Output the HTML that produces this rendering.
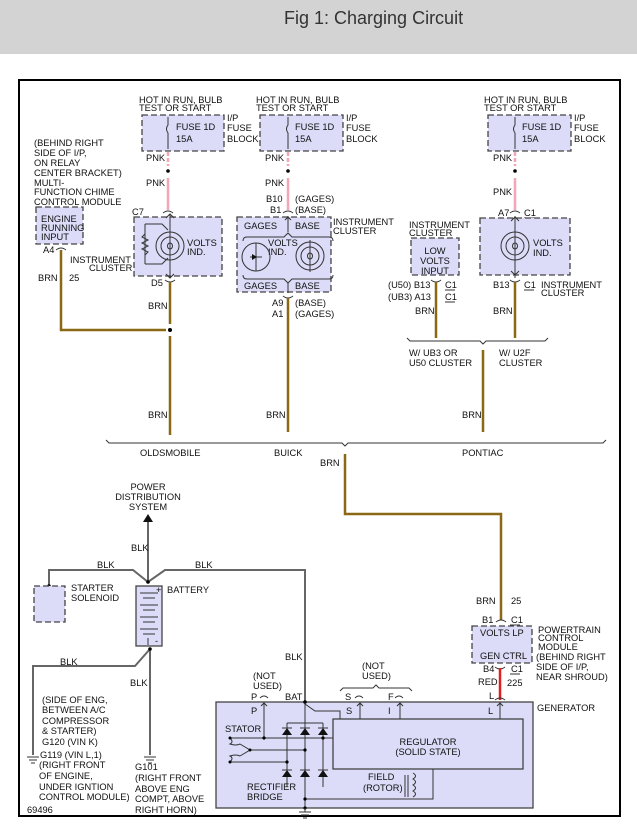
<!DOCTYPE html>
<html><head><meta charset="utf-8"><style>
html,body{margin:0;padding:0;background:#fff;width:637px;height:832px;overflow:hidden}
.hdr{position:absolute;left:0;top:0;width:637px;height:54px;background:#d3d3d3}
.hdr span{position:absolute;left:284px;top:8px;font:18px "Liberation Sans",sans-serif;color:#333}
svg{position:absolute;left:0;top:0}
text{font-family:"Liberation Sans",Arial,sans-serif;font-size:9.3px;fill:#111}
.bx{fill:#dcdcf8;stroke:#444;stroke-width:1.3;stroke-dasharray:6,3}
.br{stroke:#8b6914;stroke-width:2.5;fill:none}
.gw{stroke:#666;stroke-width:2;fill:none}
.pk{stroke:#f3a6b6;stroke-width:2.5;fill:none}
.ln{stroke:#333;stroke-width:1;fill:none}
</style></head><body>
<div class="hdr"><span>Fig 1: Charging Circuit</span></div>
<svg width="637" height="832" viewBox="0 0 637 832">
<rect x="19" y="80" width="601" height="736" fill="none" stroke="#000" stroke-width="2"/>

<g>
<text x="139" y="103">HOT IN RUN, BULB</text><text x="139" y="111">TEST OR START</text>
<rect class="bx" x="142" y="115" width="82" height="36"/>
<path class="ln" d="M168 117v8q-3 4 0 8v16"/>
<text x="176" y="130">FUSE 1D</text><text x="176" y="142">15A</text>
<text x="227" y="121">I/P</text><text x="227" y="131">FUSE</text><text x="227" y="142">BLOCK</text>
<text x="146" y="161">PNK</text><text x="146" y="186">PNK</text>
<path class="pk" d="M168 152v14" stroke-dasharray="4,2"/><circle cx="168" cy="171" r="1.8"/><path class="pk" d="M168 178v32"/>

<text x="256" y="103">HOT IN RUN, BULB</text><text x="256" y="111">TEST OR START</text>
<rect class="bx" x="260" y="115" width="83" height="36"/>
<path class="ln" d="M288 117v8q-3 4 0 8v16"/>
<text x="295" y="130">FUSE 1D</text><text x="295" y="142">15A</text>
<text x="346" y="121">I/P</text><text x="346" y="131">FUSE</text><text x="346" y="142">BLOCK</text>
<text x="265" y="161">PNK</text><text x="265" y="186">PNK</text>
<path class="pk" d="M288 152v14" stroke-dasharray="4,2"/><circle cx="288" cy="171" r="1.8"/><path class="pk" d="M288 178v32"/>

<text x="484" y="103">HOT IN RUN, BULB</text><text x="484" y="111">TEST OR START</text>
<rect class="bx" x="488" y="115" width="83" height="36"/>
<path class="ln" d="M515 117v8q-3 4 0 8v16"/>
<text x="522" y="130">FUSE 1D</text><text x="522" y="142">15A</text>
<text x="574" y="121">I/P</text><text x="574" y="131">FUSE</text><text x="574" y="142">BLOCK</text>
<text x="493" y="161">PNK</text><text x="493" y="195">PNK</text>
<path class="pk" d="M515 152v14" stroke-dasharray="4,2"/><circle cx="515" cy="171" r="1.8"/><path class="pk" d="M515 178v32"/>
</g>

<text x="34" y="146">(BEHIND RIGHT</text><text x="34" y="156">SIDE OF I/P,</text><text x="34" y="166">ON RELAY</text><text x="34" y="176">CENTER BRACKET)</text><text x="34" y="186">MULTI-</text><text x="34" y="195">FUNCTION CHIME</text><text x="34" y="205">CONTROL MODULE</text>
<rect class="bx" x="36" y="207" width="47" height="37"/>
<text x="41" y="222">ENGINE</text><text x="41" y="231">RUNNING</text><text x="41" y="240">INPUT</text>
<text x="43" y="253">A4</text><path class="ln" d="M56 250q5-4 10 0"/>
<path class="br" d="M61 250v80h105"/>
<text x="38" y="281">BRN</text><text x="69" y="281">25</text>
<text x="132" y="215">C7</text><path class="ln" d="M163 213q5-4 10 0"/>
<rect class="bx" x="134" y="217" width="88" height="59"/>
<circle class="ln" cx="170" cy="246" r="14"/><circle class="ln" cx="170" cy="246" r="9"/><ellipse class="ln" cx="170" cy="246" rx="2.5" ry="3"/>
<path class="ln" d="M170 214v64M166 218l4-4 4 4M166 274l4 4 4-4M145 224v40M145 224h17l6 6M145 264h17l6-6"/>
<path class="ln" d="M145 234l-3 3 6 3-6 3 6 3-6 3 6 3-3 3"/>
<text x="187" y="246">VOLTS</text><text x="187" y="255">IND.</text>
<text x="70" y="263">INSTRUMENT</text><text x="89" y="271">CLUSTER</text>
<text x="151" y="286">D5</text><path class="ln" d="M165 280q5 4 10 0"/>
<path class="br" d="M170 282v42M170 336v99"/><circle cx="170" cy="330" r="2"/>
<text x="148" y="309">BRN</text><text x="148" y="418">BRN</text>

<text x="266" y="202">B10</text><text x="270" y="213">B1</text><text x="295" y="202">(GAGES)</text><text x="295" y="213">(BASE)</text>
<path class="ln" d="M283 213q5-4 10 0"/>
<rect class="bx" x="237" y="217" width="94" height="75"/>
<text x="333" y="225">INSTRUMENT</text><text x="333" y="234">CLUSTER</text>
<text x="244" y="229">GAGES</text><text x="295" y="229">BASE</text>
<text x="244" y="289">GAGES</text><text x="295" y="289">BASE</text>
<path class="ln" d="M288 216v16M285 220l3-3 3 3M243 241q0-4 4-4h37l4-4 4 4h37q4 0 4 4M243 275q0 4 4 4h37l4 4 4-4h37q4 0 4-4M288 283v10"/>
<text x="268" y="246">VOLTS</text><text x="268" y="255">IND.</text>
<circle class="ln" cx="256" cy="257" r="14"/><path class="ln" d="M256 243v28M250 257h12"/><path d="M252 254l5 3-5 3z" fill="#111"/>
<circle class="ln" cx="310" cy="256" r="14"/><circle class="ln" cx="310" cy="256" r="9"/><ellipse class="ln" cx="310" cy="256" rx="2.5" ry="3"/><path class="ln" d="M310 240v32"/>
<path class="ln" d="M283 296q5 4 10 0"/>
<text x="272" y="306">A9</text><text x="272" y="317">A1</text><text x="295" y="306">(BASE)</text><text x="295" y="317">(GAGES)</text>
<path class="br" d="M288 298v134"/>
<text x="266" y="418">BRN</text>

<text x="409" y="228">INSTRUMENT</text><text x="409" y="236">CLUSTER</text>
<rect class="bx" x="411" y="238" width="48" height="37"/>
<text x="435" y="254" text-anchor="middle">LOW</text><text x="435" y="264" text-anchor="middle">VOLTS</text><text x="435" y="274" text-anchor="middle">INPUT</text>
<path class="ln" d="M431 280q5 4 10 0"/>
<text x="388" y="288">(U50) B13</text><text x="388" y="300">(UB3) A13</text><text x="445" y="288">C1</text><text x="445" y="300">C1</text>
<path class="ln" d="M445 290h10M445 302h10"/>
<path class="br" d="M436 282v56"/><text x="415" y="314">BRN</text>
<text x="498" y="216">A7</text><text x="524" y="216">C1</text><path class="ln" d="M510 213q5-4 10 0M524 218h10"/>
<rect class="bx" x="480" y="218" width="90" height="57"/>
<circle class="ln" cx="515" cy="246" r="14"/><circle class="ln" cx="515" cy="246" r="9"/><ellipse class="ln" cx="515" cy="246" rx="2.5" ry="3"/>
<path class="ln" d="M515 216v62M511 221l4-4 4 4M511 271l4 4 4-4"/>
<text x="533" y="246">VOLTS</text><text x="533" y="256">IND.</text>
<text x="493" y="288">B13</text><text x="524" y="288">C1</text><path class="ln" d="M510 280q5 4 10 0M524 290h10"/>
<text x="541" y="288">INSTRUMENT</text><text x="541" y="296">CLUSTER</text>
<path class="br" d="M515 282v56"/><text x="493" y="314">BRN</text>
<path class="ln" d="M407 338l3 3h70l3 3 3-3h59l3-3"/>
<text x="409" y="356">W/ UB3 OR</text><text x="409" y="366">U50 CLUSTER</text><text x="499" y="356">W/ U2F</text><text x="499" y="366">CLUSTER</text>
<path class="br" d="M483 350v82"/><text x="462" y="418">BRN</text>

<path class="ln" d="M106 440l3 3h233l3 3 3-3h255l3-3"/>
<text x="140" y="456">OLDSMOBILE</text><text x="274" y="456">BUICK</text><text x="462" y="456">PONTIAC</text>
<path class="br" d="M345 454v60h156v106"/>
<text x="320" y="466">BRN</text><text x="476" y="604">BRN</text><text x="511" y="604">25</text>

<text x="482" y="623">B1</text><text x="511" y="623">C1</text><path class="ln" d="M496 622q5-4 10 0M510 625h10"/>
<rect class="bx" x="472" y="626" width="60" height="37"/>
<text x="480" y="636">VOLTS LP</text><text x="480" y="659">GEN CTRL</text>
<text x="538" y="633">POWERTRAIN</text><text x="538" y="641">CONTROL</text><text x="538" y="650">MODULE</text>
<text x="536" y="660">(BEHIND RIGHT</text><text x="536" y="670">SIDE OF I/P,</text><text x="536" y="680">NEAR SHROUD)</text>
<text x="483" y="672">B4</text><text x="511" y="672">C1</text><path class="ln" d="M495 667q5 4 10 0M510 674h10"/>
<text x="478" y="685">RED</text><text x="507" y="686">225</text><text x="489" y="699">L</text>
<path d="M500 668v32" stroke="#e02020" stroke-width="2.5"/>
<path class="ln" d="M495 700q5-4 10 0"/>

<text x="148" y="490" text-anchor="middle">POWER</text><text x="148" y="500" text-anchor="middle">DISTRIBUTION</text><text x="148" y="510" text-anchor="middle">SYSTEM</text>
<path d="M143 522l5-8 5 8z" fill="#111"/>
<path class="gw" d="M148 522v60M49 586v-16h84l15 12 17-12h140v132"/>
<text x="131" y="551">BLK</text><text x="97" y="568">BLK</text><text x="195" y="568">BLK</text><text x="285" y="660">BLK</text>
<circle cx="49" cy="586" r="1.8"/><circle cx="148" cy="582" r="1.8"/>
<rect class="bx" x="34" y="586" width="31" height="36"/>
<text x="71" y="591">STARTER</text><text x="71" y="601">SOLENOID</text>
<rect x="136" y="586" width="26" height="60" fill="#dcdcf8" stroke="#444" stroke-width="1.3"/>
<path class="ln" d="M140 593h18M143 598h12M140 605h18M143 610h12M140 617h18M143 622h12M140 629h18M143 634h12M148 638v7"/>
<text x="156" y="593" font-size="7">+</text><text x="155" y="644" font-size="7">-</text>
<text x="167" y="593">BATTERY</text>
<path class="gw" d="M150 649v106M150 649l-15 17H33v89"/>
<circle cx="150" cy="649" r="1.8"/>
<text x="60" y="665">BLK</text><text x="130" y="686">BLK</text>
<path class="ln" d="M27 757h12M29 760h8M31 763h4M144 757h12M146 760h8M148 763h4"/>
<text x="42" y="703">(SIDE OF ENG,</text><text x="42" y="713">BETWEEN A/C</text><text x="42" y="724">COMPRESSOR</text><text x="42" y="734">&amp; STARTER)</text><text x="42" y="745">G120 (VIN K)</text>
<text x="40" y="758">G119 (VIN L,1)</text><text x="39" y="768">(RIGHT FRONT</text><text x="39" y="779">OF ENGINE,</text><text x="39" y="790">UNDER IGNTION</text><text x="39" y="800">CONTROL MODULE)</text>
<text x="27" y="813">69496</text>
<text x="135" y="770">G101</text><text x="135" y="781">(RIGHT FRONT</text><text x="135" y="792">ABOVE ENG</text><text x="135" y="802">COMPT, ABOVE</text><text x="135" y="813">RIGHT HORN)</text>

<rect x="216" y="702" width="317" height="106" fill="#dcdcf8" stroke="#444" stroke-width="1.3"/>
<rect x="333" y="719" width="190" height="50" fill="#dcdcf8" stroke="#444" stroke-width="1.3"/>
<text x="428" y="745" text-anchor="middle">REGULATOR</text><text x="428" y="755" text-anchor="middle">(SOLID STATE)</text>
<text x="537" y="711">GENERATOR</text>
<text x="253" y="679">(NOT</text><text x="253" y="689">USED)</text>
<text x="251" y="700">P</text><path class="ln" d="M260 698q4-4 8 0"/><text x="251" y="714">P</text>
<text x="285" y="700">BAT</text>
<text x="362" y="669">(NOT</text><text x="362" y="679">USED)</text>
<path class="ln" d="M340 691l3-3h30l3-3 3 3h30l3 3"/>
<text x="345" y="700">S</text><path class="ln" d="M355 698q4-4 8 0"/><text x="346" y="714">S</text>
<text x="388" y="700">F</text><path class="ln" d="M395 698q4-4 8 0"/><text x="388" y="714">I</text>
<text x="488" y="714">L</text>
<path class="ln" d="M264 738v-35M261 706l3-3 3 3M360 719v-16M357 706l3-3 3 3M400 719v-16M397 706l3-3 3 3M500 719v-16M497 706l3-3 3 3"/>
<path class="ln" d="M305 702v106M305 704l10 7h25v8M287 723h36M287 723v64M323 723v64M230 738h103M250 750h55M230 762h57M305 799h128v-30"/>
<circle cx="305" cy="702" r="1.8"/><circle cx="264" cy="738" r="1.6"/><circle cx="323" cy="738" r="1.6"/><circle cx="305" cy="750" r="1.6"/><circle cx="287" cy="762" r="1.6"/><circle cx="305" cy="799" r="1.6"/><circle cx="305" cy="808" r="1.6"/>
<g fill="#111">
<path d="M282 735l5-7 5 7z"/><path d="M300 735l5-7 5 7z"/><path d="M318 735l5-7 5 7z"/>
<path d="M282 777l5-7 5 7z"/><path d="M300 777l5-7 5 7z"/><path d="M318 777l5-7 5 7z"/>
</g>
<path class="ln" d="M282 728h10M300 728h10M318 728h10M282 770h10M300 770h10M318 770h10"/>
<path class="ln" d="M230 738q4 4 0 6q6 2 10 0M230 762q4-4 0-6q6-2 10 0M240 744l10 6-10 6"/>
<circle cx="230" cy="738" r="1.5"/><circle cx="230" cy="762" r="1.5"/><circle cx="250" cy="750" r="1.5"/>
<text x="225" y="732">STATOR</text>
<text x="247" y="790">RECTIFIER</text><text x="247" y="800">BRIDGE</text>
<text x="368" y="780">FIELD</text><text x="363" y="791">(ROTOR)</text>
<path class="ln" d="M405 775v22M408 775v22M413 773q5 3 0 6q5 3 0 6q5 3 0 6q5 3 0 6"/>
<path class="ln" d="M299 812h12M301 815h8M303 818h4M305 808v4"/>
</svg>
</body></html>
